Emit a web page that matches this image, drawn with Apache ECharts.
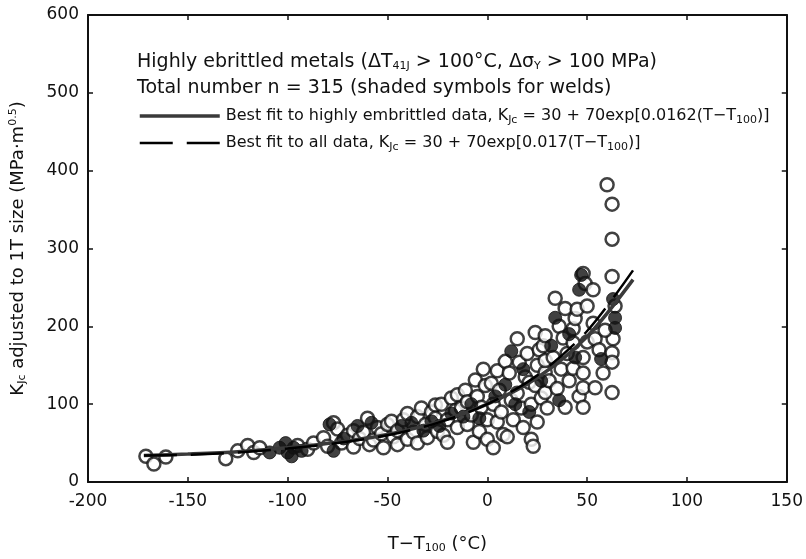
<!DOCTYPE html>
<html><head><meta charset="utf-8">
<script src="https://cdn.jsdelivr.net/npm/echarts@6/dist/echarts.min.js"></script>
<style>html,body{margin:0;padding:0;background:#fff}#c{width:806px;height:559px}</style>
</head><body><div id="c"></div>
<script>
// ---- data ----
const xTickValues = [-200, -150, -100, -50, 0, 50, 100, 150];
const yTickValues = [0, 100, 200, 300, 400, 500, 600];

const openPoints = [
  [-171,33],[-167,23],[-161,32],[-131,30],[-125,40],[-120,47],[-117,38],[-114,44],[-95,47],[-90,42],[-87,50],[-82,57],[-80,46],
  [-77,76],[-75,68],[-73,50],[-70,60],[-67,66],[-67,45],[-64,56],[-62,64],[-60,82],[-59,48],[-57,54],[-55,70],[-53,62],[-52,44],[-50,74],
  [-48,78],[-47,58],[-45,48],[-45,66],[-42,80],[-40,55],[-40,88],[-37,64],[-35,50],[-35,84],[-33,95],[-31,74],[-30,57],[-28,90],[-26,99],[-26,82],[-25,65],
  [-23,100],[-22,60],[-20,80],[-20,51],[-18,108],[-16,92],[-15,70],[-15,112],[-13,95],[-11,118],[-10,74],[-10,103],[-8,86],[-7,51],[-6,131],[-5,110],[-4,65],[-3,96],[-1,124],[0,80],[0,55],[-2,145],
  [2,127],[3,44],[3,100],[5,143],[5,77],[6,118],[7,90],[8,61],[9,155],[10,58],[11,140],[12,105],[13,80],[15,184],[15,114],[16,154],[17,95],[18,70],[19,135],[20,165],[21,128],[22,55],[22,100],[23,46],[24,192],[24,124],[25,77],[25,150],
  [26,170],[27,108],[28,175],[29,188],[29,141],[29,156],[29,115],[30,95],[31,130],[33,160],[34,236],[35,120],[36,200],[37,145],[38,185],[39,223],[39,96],[40,165],[41,130],[43,197],[43,179],[43,146],[44,210],[45,222],[46,110],[48,268],[48,160],[48,140],[48,121],[48,96],[49,255],[50,226],[50,180],
  [53,247],[53,204],[54,184],[54,121],[56,170],[58,140],[60,382],[62.5,357],[62.5,312],[62.5,264],[64,226],[63,184],[62.5,166],[62.5,154],[62.5,115],[59,195]
];
const weldPoints = [
  [-109,38],[-104,44],[-101,50],[-100,38],[-98,33],[-97,44],[-93,40],[-79,74],[-77,40],
  [-72,56],[-65,72],[-58,76],
  [-43,72],[-38,76],[-32,66],[-28,78],
  [-18,88],[-12,84],[-8,100],[-4,82],[-24,72],
  [4,110],[9,125],[14,100],[18,145],[21,90],[12,168],
  [27,130],[32,175],[34,211],[36,105],[41,190],[46,247],[47,266],[44,160],
  [64,211],[64,198],[63,235],[57,158]
];
// fit curves, values
const fitX       = [-172, -150, -125, -100, -75, -50, -25, 0, 25, 50, 73];
const fitHighlyY = [34, 36, 39, 44, 51, 61, 77, 100, 134, 187, 260];
const fitAllY    = [34, 35, 38, 43, 50, 60, 76, 100, 137, 194, 272];

const nameHighly = 'Best fit to highly embrittled data';
const nameAll = 'Best fit to all data';

// ---- chart ----
const FF = 'DejaVu Sans';
const C = '#111';
const chart = echarts.init(document.getElementById('c'));
const pair = (xs, ys) => xs.map((x, i) => [x, ys[i]]);
const subStyle = {fontFamily: FF, fontSize: 11, fontWeight: 'normal', color: C, lineHeight: 11, padding: [9, 0, 0, 0]};
const supStyle = {fontFamily: FF, fontSize: 11, fontWeight: 'normal', color: C, lineHeight: 11, padding: [0, 0, 9, 0]};

const xCommon = {type: 'value', min: xTickValues[0], max: xTickValues[xTickValues.length - 1], interval: 50};
const yCommon = {type: 'value', min: yTickValues[0], max: yTickValues[yTickValues.length - 1], interval: 100};
const axisLine = {show: true, onZero: false, lineStyle: {color: C, width: 2}};
const tick = {show: true, inside: true, length: 5, lineStyle: {color: C, width: 1.5}};

const solidStyle = {color: '#3a3a3a', width: 3.5, type: 'solid'};
const dashStyle = {color: '#000', width: 2.5, type: [33, 14]};

chart.setOption({
  animation: false,
  backgroundColor: '#fff',
  grid: {left: 87, right: 19, top: 15, bottom: 71, containLabel: false},
  title: {
    left: 137, top: 49, padding: 0,
    text: '{a|Highly ebrittled metals (ΔT}{s|41J}{a| > 100°C, Δσ}{s|Y}{a| > 100 MPa)}\n{a|Total number n = 315 (shaded symbols for welds)}',
    textStyle: {fontWeight: 'normal', rich: {a: {fontFamily: FF, fontSize: 19, fontWeight: 'normal', color: C, lineHeight: 26}, s: subStyle}}
  },
  legend: {
    orient: 'vertical', left: 138, top: 106, itemWidth: 80, itemHeight: 14, itemGap: 7, padding: 0,
    itemStyle: {opacity: 0},
    data: [
      {name: nameHighly, lineStyle: solidStyle, itemStyle: {opacity: 0}},
      {name: nameAll, lineStyle: dashStyle, itemStyle: {opacity: 0}}
    ],
    formatter: function (n) {
      if (n === nameHighly) return '{a|Best fit to highly embrittled data, K}{s|Jc}{a| = 30 + 70exp[0.0162(T−T}{s|100}{a|)]}';
      return '{a|Best fit to all data, K}{s|Jc}{a| = 30 + 70exp[0.017(T−T}{s|100}{a|)]}';
    },
    textStyle: {padding: [0, 0, 0, 1], rich: {a: {fontFamily: FF, fontSize: 16, color: C, lineHeight: 16}, s: subStyle}}
  },
  xAxis: [
    Object.assign({}, xCommon, {
      position: 'bottom', axisLine: axisLine, axisTick: tick,
      axisLabel: {fontFamily: FF, fontSize: 17, color: C, margin: 11},
      splitLine: {show: false},
      name: '{a|T−T}{s|100}{a| (°C)}', nameLocation: 'middle', nameGap: 50,
      nameTextStyle: {rich: {a: {fontFamily: FF, fontSize: 18, color: C, lineHeight: 24}, s: subStyle}}
    }),
    Object.assign({}, xCommon, {
      position: 'top', axisLine: axisLine, axisTick: tick,
      axisLabel: {show: false}, splitLine: {show: false}
    })
  ],
  yAxis: [
    Object.assign({}, yCommon, {
      position: 'left', axisLine: axisLine, axisTick: tick,
      axisLabel: {fontFamily: FF, fontSize: 17, color: C, margin: 9},
      splitLine: {show: false},
      name: '{a|K}{s|Jc}{a| adjusted to 1T size (MPa·m}{p|0.5}{a|)}', nameLocation: 'middle', nameGap: 58, nameRotate: 90,
      nameTextStyle: {rich: {a: {fontFamily: FF, fontSize: 18, color: C, lineHeight: 24}, s: subStyle, p: supStyle}}
    }),
    Object.assign({}, yCommon, {
      position: 'right', axisLine: axisLine, axisTick: tick,
      axisLabel: {show: false}, splitLine: {show: false}
    })
  ],
  series: [
    {
      type: 'scatter', name: 'base', data: openPoints, symbol: 'circle', symbolSize: 13,
      itemStyle: {color: '#fff', borderColor: C, borderWidth: 2.5}, z: 2
    },
    {
      type: 'scatter', name: 'welds', data: weldPoints, symbol: 'circle', symbolSize: 13,
      itemStyle: {color: C, borderColor: C, borderWidth: 1}, z: 3
    },
    {
      type: 'line', name: nameHighly, data: pair(fitX, fitHighlyY), smooth: 0.3, symbol: 'none',
      lineStyle: solidStyle, itemStyle: {color: '#3a3a3a'}, z: 5
    },
    {
      type: 'line', name: nameAll, data: pair(fitX, fitAllY), smooth: 0.3, symbol: 'none',
      lineStyle: dashStyle, itemStyle: {color: '#000'}, z: 6
    }
  ]
});
</script>
</body></html>
